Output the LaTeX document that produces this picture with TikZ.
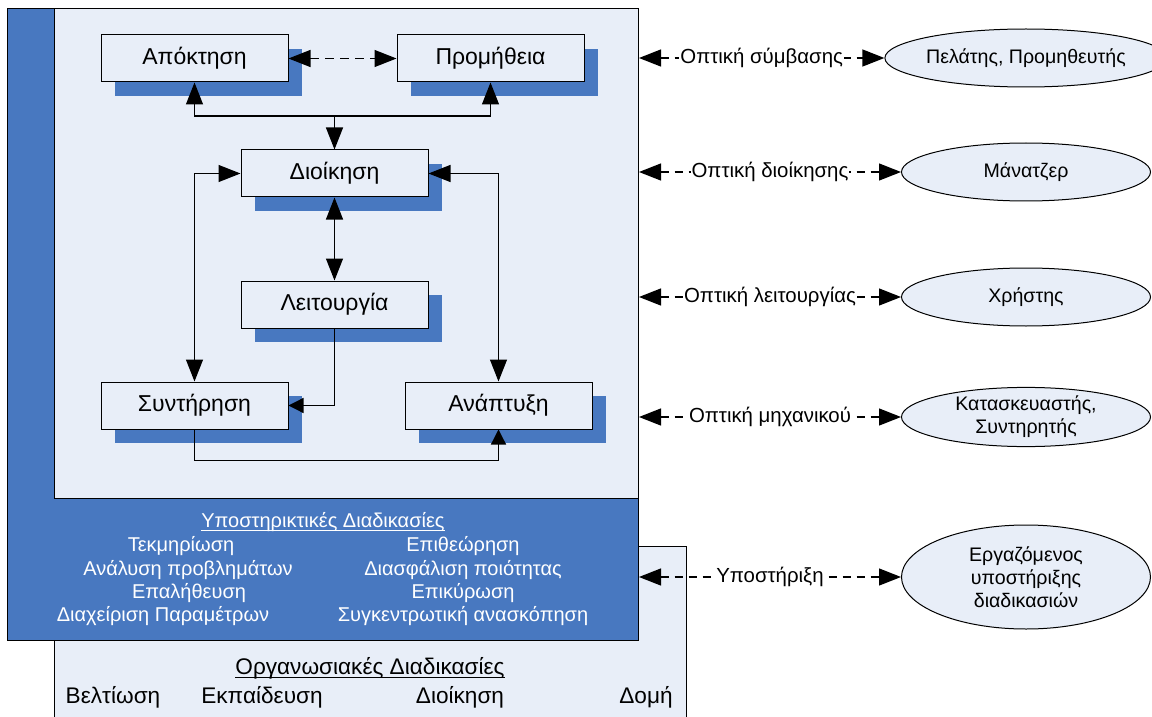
\documentclass[tikz,border=0pt]{standalone}
\usepackage{fontspec}
\setmainfont{Liberation Sans}
\usetikzlibrary{arrows.meta,shapes.geometric,shadows}
\definecolor{vblue}{HTML}{4878C0}
\definecolor{vlight}{HTML}{E8EEF8}

\begin{document}
\begin{tikzpicture}[x=0.5pt,y=-0.5pt,
  >={Triangle[length=11pt,width=8.5pt]},
  small>/.tip={Triangle[length=7.5pt,width=7.5pt]},
  procbox/.style={draw=black, line width=0.5pt, fill=vlight,
    minimum width=93.5pt, minimum height=23.5pt, inner sep=0pt,
    font=\fontsize{11.5}{13}\selectfont,
    drop shadow={shadow xshift=7pt, shadow yshift=-7pt, fill=vblue, opacity=1}},
  flow/.style={draw=black, line width=0.65pt},
  view/.style={flow, dash pattern=on 4pt off 3pt, <->},
  viewlabel/.style={fill=white, inner sep=0.5pt, font=\fontsize{10.2}{12}\selectfont},
  actor/.style={ellipse, draw=black, line width=0.5pt, fill=vlight,
    minimum width=124.5pt, minimum height=29pt, inner sep=0pt, align=center,
    font=\fontsize{9.8}{11.5}\selectfont},
  supptext/.style={text=white, font=\fontsize{10}{12}\selectfont, inner sep=0pt},
  orgtext/.style={font=\fontsize{11.3}{13}\selectfont, inner sep=0pt}]

\useasboundingbox (0,0) rectangle (1152,717);

% organisational processes panel (runs off the lower edge)
\fill[vlight] (54,546) rectangle (686,717);
\draw[line width=0.5pt] (54,717) -- (54,546) -- (686,546) -- (686,717);

% supporting processes panel and core panel
\node[draw=black, line width=0.5pt, fill=vblue, anchor=north west,
      minimum width=315.5pt, minimum height=316pt, inner sep=0pt] (supp) at (7,8) {};
\node[draw=black, line width=0.5pt, fill=vlight, anchor=north west,
      minimum width=292pt, minimum height=245pt, inner sep=0pt] (core) at (54,8) {};

% core processes
\node[procbox] (apo)   at (194.5,58.5)  {Απόκτηση};
\node[procbox] (prom)  at (490.5,58.5)  {Προμήθεια};
\node[procbox] (dio)   at (334.5,173.5) {Διοίκηση};
\node[procbox] (leit)  at (334.5,304.5) {Λειτουργία};
\node[procbox] (synt)  at (194.5,405.5) {Συντήρηση};
\node[procbox] (anap)  at (498.5,405.5) {Ανάπτυξη};

% links between core processes
\draw[flow, dash pattern=on 4.5pt off 3pt, <->] (apo.east) -- (prom.west);
\coordinate (j) at (334.5,116);
\draw[flow,->] (j) -- (dio.north);
\draw[flow,<-] (apo.south) |- (j);
\draw[flow,<-] (prom.south) |- (j);
\draw[flow,<->] (dio.south) -- (leit.north);
\draw[flow,<->] (dio.west) -| (synt.north);
\draw[flow,<->] (dio.east) -| (anap.north);
\draw[flow,-small>] (leit.south) |- (synt.east);
\draw[flow,-small>] (synt.south) -- ++(0,31) -| (anap.south);

% supporting processes
\node[supptext] (sTitle) at (323,522) {Υποστηρικτικές Διαδικασίες};
\draw[white, line width=0.5pt] ([yshift=-1.6pt]sTitle.base west) -- ([yshift=-1.6pt]sTitle.base east);
\node[supptext] (s1) at (181,546) {Τεκμηρίωση};
\node[supptext] (s2) at (188,570) {Ανάλυση προβλημάτων};
\node[supptext] (s3) at (189,593) {Επαλήθευση};
\node[supptext] (s4) at (163,616) {Διαχείριση Παραμέτρων};
\node[supptext] (s5) at (463,546) {Επιθεώρηση};
\node[supptext] (s6) at (463,570) {Διασφάλιση ποιότητας};
\node[supptext] (s7) at (463,593) {Επικύρωση};
\node[supptext] (s8) at (463,616) {Συγκεντρωτική ανασκόπηση};

% organisational processes
\node[orgtext] (oTitle) at (370,668) {Οργανωσιακές Διαδικασίες};
\draw[line width=0.5pt] ([yshift=-1.8pt]oTitle.base west) -- ([yshift=-1.8pt]oTitle.base east);
\node[orgtext] (o1) at (113,697) {Βελτίωση};
\node[orgtext] (o2) at (262,697) {Εκπαίδευση};
\node[orgtext] (o3) at (460,697) {Διοίκηση};
\node[orgtext] (o4) at (646,697) {Δομή};

% stakeholders
\node[actor] (e1) at (1026,58)  {Πελάτης, Προμηθευτής};
\node[actor] (e2) at (1026,172) {Μάνατζερ};
\node[actor] (e3) at (1026,297) {Χρήστης};
\node[actor] (e4) at (1026,417) {Κατασκευαστής,\\Συντηρητής};
\node[actor, minimum height=52pt] (e5) at (1026,577) {Εργαζόμενος\\υποστήριξης\\διαδικασιών};

% viewpoints
\draw[view] (core.east |- e1.west) -- node[viewlabel] {Οπτική σύμβασης} (e1.west);
\draw[view] (core.east |- e2.west) -- node[viewlabel] {Οπτική διοίκησης} (e2.west);
\draw[view] (core.east |- e3.west) -- node[viewlabel] {Οπτική λειτουργίας} (e3.west);
\draw[view] (core.east |- e4.west) -- node[viewlabel] {Οπτική μηχανικού} (e4.west);
\draw[view] (supp.east |- e5.west) -- node[viewlabel] {Υποστήριξη} (e5.west);

\end{tikzpicture}
\end{document}
